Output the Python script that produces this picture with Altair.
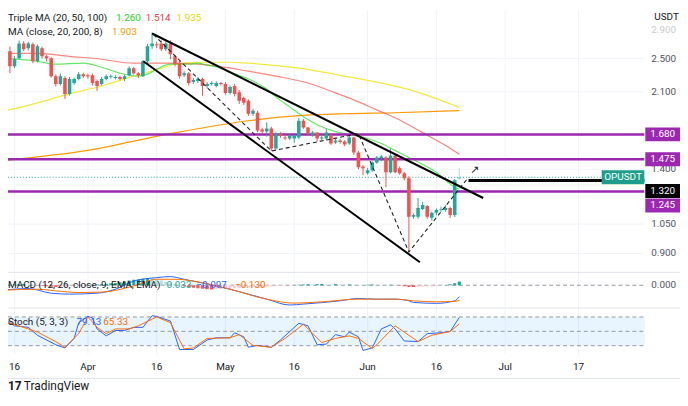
import altair as alt
import pandas as pd

# ---------------- data ----------------
candle_day = list(range(-1, 98))  # days since 16 Mar
candle_open = [2.597, 2.402, 2.504, 2.707, 2.638, 2.693, 2.465, 2.638, 2.530, 2.504,
               2.280, 2.188, 2.257, 2.077, 2.199, 2.245, 2.304, 2.290, 2.292, 2.222,
               2.188, 2.245, 2.269, 2.257, 2.269, 2.245, 2.292, 2.377, 2.316, 2.280,
               2.465, 2.665, 2.693, 2.707, 2.624, 2.707, 2.530, 2.440, 2.292, 2.316,
               2.211, 2.222, 2.245, 2.165, 2.188, 2.165, 2.199, 2.188, 2.088, 2.165,
               2.096, 2.034, 2.003, 1.872, 1.882, 1.723, 1.705, 1.732, 1.561, 1.687,
               1.653, 1.644, 1.644, 1.653, 1.805, 1.741, 1.670, 1.696, 1.644, 1.644,
               1.670, 1.610, 1.627, 1.619, 1.602, 1.653, 1.529, 1.419, 1.371, 1.392,
               1.451, 1.482, 1.489, 1.378, 1.505, 1.407, 1.371, 1.336, 1.091, 1.091,
               1.137, 1.155, 1.085, 1.114, 1.134, 1.131, 1.143, 1.102, 1.330]
candle_high = [2.665, 2.530, 2.749, 2.740, 2.730, 2.720, 2.690, 2.660, 2.550, 2.520,
               2.300, 2.310, 2.280, 2.270, 2.260, 2.330, 2.320, 2.310, 2.310, 2.240,
               2.270, 2.300, 2.300, 2.290, 2.280, 2.300, 2.400, 2.390, 2.330, 2.480,
               2.700, 2.860, 2.730, 2.750, 2.760, 2.750, 2.550, 2.470, 2.340, 2.330,
               2.260, 2.270, 2.260, 2.210, 2.220, 2.220, 2.210, 2.210, 2.170, 2.190,
               2.120, 2.050, 2.020, 1.920, 1.900, 1.740, 1.790, 1.750, 1.700, 1.700,
               1.680, 1.690, 1.680, 1.830, 1.820, 1.750, 1.710, 1.700, 1.680, 1.730,
               1.690, 1.640, 1.640, 1.630, 1.670, 1.660, 1.540, 1.430, 1.410, 1.460,
               1.500, 1.510, 1.500, 1.561, 1.520, 1.420, 1.380, 1.350, 1.110, 1.204,
               1.180, 1.160, 1.120, 1.140, 1.150, 1.160, 1.150, 1.330, 1.407]
candle_low = [2.316, 2.377, 2.491, 2.600, 2.610, 2.440, 2.450, 2.500, 2.460, 2.260,
              2.160, 2.170, 2.023, 2.060, 2.180, 2.230, 2.260, 2.250, 2.170, 2.110,
              2.170, 2.230, 2.250, 2.240, 2.230, 2.220, 2.280, 2.300, 2.257, 2.270,
              2.440, 2.630, 2.640, 2.600, 2.600, 2.490, 2.400, 2.250, 2.270, 2.170,
              2.190, 2.200, 2.056, 2.140, 2.170, 2.150, 2.170, 2.070, 2.070, 2.050,
              1.970, 1.960, 1.850, 1.850, 1.700, 1.690, 1.660, 1.540, 1.550, 1.650,
              1.630, 1.630, 1.610, 1.640, 1.730, 1.670, 1.660, 1.620, 1.630, 1.630,
              1.590, 1.600, 1.600, 1.580, 1.590, 1.510, 1.400, 1.356, 1.360, 1.380,
              1.440, 1.460, 1.274, 1.370, 1.370, 1.360, 1.320, 0.907, 1.080, 1.080,
              1.130, 1.080, 1.070, 1.100, 1.120, 1.120, 1.085, 1.090, 1.325]
candle_close = [2.402, 2.491, 2.707, 2.624, 2.707, 2.465, 2.665, 2.530, 2.504, 2.280,
                2.188, 2.280, 2.077, 2.245, 2.245, 2.304, 2.280, 2.280, 2.199, 2.165,
                2.245, 2.280, 2.280, 2.269, 2.245, 2.280, 2.377, 2.316, 2.292, 2.465,
                2.665, 2.707, 2.679, 2.624, 2.707, 2.557, 2.427, 2.280, 2.316, 2.199,
                2.234, 2.245, 2.165, 2.188, 2.199, 2.199, 2.188, 2.088, 2.154, 2.077,
                2.003, 1.982, 1.872, 1.901, 1.714, 1.705, 1.732, 1.561, 1.687, 1.670,
                1.644, 1.670, 1.670, 1.805, 1.741, 1.687, 1.696, 1.644, 1.653, 1.696,
                1.602, 1.627, 1.615, 1.594, 1.653, 1.529, 1.414, 1.407, 1.392, 1.451,
                1.489, 1.497, 1.378, 1.505, 1.378, 1.371, 1.336, 1.091, 1.102, 1.143,
                1.161, 1.091, 1.114, 1.131, 1.137, 1.143, 1.102, 1.322, 1.342]

ma20_day = [-2, 5, 9, 15, 19, 23, 27, 29, 31, 34, 38, 40, 42, 45, 47, 50, 52, 55, 57, 60,
            63, 66, 70, 73, 77, 80, 83, 86, 89, 92, 94, 96, 97]
ma20_val = [2.504, 2.465, 2.427, 2.440, 2.389, 2.316, 2.280, 2.304, 2.365, 2.427, 2.427,
            2.440, 2.415, 2.377, 2.328, 2.269, 2.222, 2.132, 2.045, 1.941, 1.843, 1.768,
            1.705, 1.679, 1.644, 1.602, 1.545, 1.489, 1.436, 1.378, 1.322, 1.274, 1.260]
ma50_day = [-2, 5, 12, 19, 26, 33, 40, 51, 57, 64, 70, 74, 79, 83, 89, 94, 97]
ma50_val = [2.570, 2.570, 2.530, 2.491, 2.440, 2.440, 2.427, 2.340, 2.280, 2.199, 2.088,
            2.013, 1.911, 1.834, 1.696, 1.585, 1.514]
ma100_day = [-2, 5, 12, 19, 26, 30, 35, 40, 47, 51, 62, 72, 87, 97]
ma100_val = [1.901, 1.982, 2.077, 2.165, 2.280, 2.340, 2.427, 2.452, 2.452, 2.440, 2.377,
             2.280, 2.110, 1.935]
ma200_day = [-2, 16, 34, 51, 62, 72, 83, 97]
ma200_val = [1.466, 1.545, 1.687, 1.805, 1.853, 1.872, 1.882, 1.903]

macd_day = [-2, 3, 8, 12, 18, 22, 26, 31, 34, 37, 47, 55, 60, 63, 71, 75, 79, 83, 86, 87,
            92, 96, 97]
macd_val = [-0.040, -0.028, -0.068, -0.076, -0.068, -0.034, 0.036, 0.065, 0.074, 0.051,
            -0.034, -0.119, -0.169, -0.161, -0.133, -0.113, -0.119, -0.119, -0.133,
            -0.147, -0.155, -0.133, -0.097]
signal_day = [-2, 5, 9, 14, 19, 26, 31, 35, 39, 47, 55, 61, 67, 75, 83, 87, 92, 96, 97]
signal_val = [-0.042, -0.034, -0.048, -0.062, -0.059, -0.006, 0.051, 0.051, 0.036, -0.034,
              -0.119, -0.153, -0.142, -0.119, -0.119, -0.133, -0.142, -0.138, -0.130]
hist_val = [0.004, 0.006, 0.008, 0.010, 0.006, 0.004, 0.002,
            -0.004, -0.008, -0.012, -0.014, -0.012, -0.010,
            -0.008, -0.006, -0.003, -0.002, 0.002, 0.004, 0.006, 0.008, 0.012,
            0.016, 0.020, 0.026, 0.032, 0.040, 0.046, 0.050, 0.056, 0.060,
            0.058, 0.050, 0.040, 0.030, 0.022, 0.012, 0.004,
            -0.008, -0.016, -0.022, -0.026, -0.030, -0.034, -0.036, -0.034, -0.032,
            -0.030, -0.028, -0.026, -0.024, -0.022, -0.020, -0.018, -0.016, -0.014, -0.012,
            -0.010, -0.008, -0.006, -0.004, -0.002, -0.001,
            0.004, 0.006, 0.008, 0.006, 0.008, 0.010, 0.008, 0.006, 0.008, 0.006, 0.004,
            0.006, 0.004, 0.003, 0.002,
            0.004, 0.006, 0.004, 0.003, 0.002, 0.004, 0.002, -0.002,
            -0.008, -0.014, -0.016, -0.016, -0.012, -0.010, -0.008, -0.006,
            -0.003, 0.002, 0.008, 0.018, 0.033]

stk_day = [-2, 0, 3, 5, 9, 11, 13, 14, 16, 17, 18, 20, 22, 24, 26, 28, 30, 31, 34, 36,
           39, 42, 44, 47, 48, 50, 51, 53, 56, 58, 62, 64, 66, 68, 70, 72, 73, 75, 76, 78,
           80, 82, 83, 85, 88, 90, 93, 95, 97]
stk_val = [74.7, 61.5, 58.3, 41.8, 22.0, 15.4, 35.2, 68.1, 81.3, 78.0,
           55.0, 40.5, 51.7, 51.7, 58.3, 58.3, 82.6, 81.3, 71.4, 12.1,
           12.1, 31.9, 36.5, 36.5, 47.0, 38.5, 16.7, 20.7, 16.7, 31.9,
           66.8, 61.5, 22.0, 23.3, 43.1, 38.5, 48.4, 38.5, 10.1, 15.4,
           55.0, 63.5, 55.0, 29.9, 28.6, 45.1, 47.0, 49.7, 79.1]
std_day = [-2, 2, 5, 9, 11, 14, 16, 18, 20, 22, 25, 27, 31, 34, 37, 39, 42, 47, 49, 52,
           56, 59, 63, 67, 70, 73, 75, 78, 79, 83, 84, 88, 91, 95, 97]
std_val = [69.5, 58.3, 48.4, 28.6, 16.7, 45.1, 80.0, 58.3, 45.1, 55.0,
           55.0, 61.5, 80.0, 68.1, 13.4, 15.4, 35.2, 36.5, 43.1, 20.7,
           16.7, 35.2, 64.8, 26.6, 35.2, 40.5, 35.2, 14.1, 22.0, 61.5,
           55.0, 28.6, 41.8, 49.7, 65.3]

upper_line_day = [30.0, 102.2]
upper_line_p = [2.851, 1.204]
lower_line_day = [28.1, 88.4]
lower_line_p = [2.465, 0.860]
zigzag_day = [30.3, 56, 75, 86, 99]
zigzag_p = [2.836, 1.540, 1.687, 0.907, 1.342]

purple_levels = [1.680, 1.475, 1.245]
black_level = 1.320
black_level_start = 99
last_price = 1.342
price_ticks = [2.5, 2.1, 1.4, 1.05, 0.9]

date_days = [0, 16, 31, 46, 61, 77, 92, 107, 123]
date_labels = ["16", "Apr", "16", "May", "16", "Jun", "16", "Jul", "17"]

# ---------------- styling ----------------
FONT = "Roboto"
TXT = "#131722"
AXT = "#50535e"
UP = "#26a69a"
DOWN = "#ef5350"
PURPLE = "#9c27b0"
GRID = "#f0f3fa"
SEP = "#e0e3eb"
BLUE = "#2962ff"
ORANGE = "#ff6d00"
FS = 10

W_PLOT = 642
xs = alt.Scale(domain=[-0.34, 136.26], range=[0, W_PLOT], nice=False, zero=False)
ps = alt.Scale(type="log", domain=[0.9, 2.5], range=[246.0, 49.3], nice=False)
ms = alt.Scale(domain=[-0.2, 0.1], range=[301.6, 266.2], nice=False, zero=False)
ss = alt.Scale(domain=[20, 80], range=[339, 310], nice=False, zero=False)


def X(f="day"):
    return alt.X(f"{f}:Q", scale=xs, axis=None)


def Y(f, sc):
    return alt.Y(f"{f}:Q", scale=sc, axis=None)


one = pd.DataFrame({"k": [0]})


def label(text, x, y, color=TXT, size=FS, align="left", weight="normal", opacity=1.0):
    return alt.Chart(pd.DataFrame({"t": [text]})).mark_text(
        x=x, y=y, align=align, baseline="middle", font=FONT, fontSize=size,
        color=color, fontWeight=weight, opacity=opacity
    ).encode(text="t:N")


def hline(y, x1, x2, color=SEP, width=1):
    return alt.Chart(one).mark_rule(color=color, strokeWidth=width).encode(
        x=alt.value(x1), x2=alt.value(x2), y=alt.value(y))


layers = []

# grid
dates = pd.DataFrame({"day": date_days, "lab": date_labels})
layers.append(alt.Chart(dates).mark_rule(color=GRID, strokeWidth=1).encode(
    x=X(), y=alt.value(0), y2=alt.value(348)))
layers.append(alt.Chart(pd.DataFrame({"p": price_ticks})).mark_rule(color=GRID).encode(
    y=Y("p", ps), x=alt.value(0), x2=alt.value(W_PLOT)))

# pane separators and bottom border
layers.append(hline(265, 0, 678))
layers.append(hline(301, 0, 678))
layers.append(hline(372, 0, 678))

# stoch band + levels
band = pd.DataFrame({"top": [80], "bot": [20]})
layers.append(alt.Chart(band).mark_rect(color="#2196f3", opacity=0.1).encode(
    x=alt.value(0), x2=alt.value(W_PLOT), y=Y("top", ss), y2="bot:Q"))
layers.append(alt.Chart(pd.DataFrame({"v": [80, 50, 20]})).mark_rule(
    color="#9598a1", strokeDash=[4, 3], strokeWidth=1).encode(
    x=alt.value(0), x2=alt.value(W_PLOT), y=Y("v", ss)))

# MACD zero line
layers.append(alt.Chart(pd.DataFrame({"v": [0.0]})).mark_rule(
    color="#9598a1", strokeDash=[4, 3], strokeWidth=1).encode(
    x=alt.value(0), x2=alt.value(W_PLOT), y=Y("v", ms)))

# moving averages
for d, v, col, op in [(ma200_day, ma200_val, "#ff9800", 1.0),
                      (ma100_day, ma100_val, "#f5ea3b", 1.0),
                      (ma50_day, ma50_val, "#f44336", 0.65),
                      (ma20_day, ma20_val, "#22dd22", 0.7)]:
    df = pd.DataFrame({"day": d, "v": v})
    layers.append(alt.Chart(df).mark_line(color=col, strokeWidth=1.2, opacity=op,
                                          interpolate="monotone", clip=True).encode(
        x=X(), y=Y("v", ps)))

# purple levels and last-price dotted line
layers.append(alt.Chart(pd.DataFrame({"p": purple_levels})).mark_rule(
    color=PURPLE, strokeWidth=2.5).encode(
    x=alt.value(0), x2=alt.value(W_PLOT), y=Y("p", ps)))
layers.append(alt.Chart(pd.DataFrame({"p": [last_price]})).mark_rule(
    color=UP, strokeDash=[1, 2], strokeWidth=1).encode(
    x=alt.value(0), x2=alt.value(W_PLOT), y=Y("p", ps)))

# candles
candles = pd.DataFrame({"day": candle_day, "open": candle_open, "high": candle_high,
                        "low": candle_low, "close": candle_close})
ccol = alt.condition(alt.datum.close >= alt.datum.open, alt.value(UP), alt.value(DOWN))
cop = alt.condition(alt.datum.day == 97, alt.value(0.35), alt.value(1.0))
layers.append(alt.Chart(candles).mark_rule(strokeWidth=1, clip=True).encode(
    x=X(), y=Y("low", ps), y2="high:Q", color=ccol, opacity=cop))
layers.append(alt.Chart(candles).mark_bar(size=3.6, clip=True).encode(
    x=X(), y=Y("open", ps), y2="close:Q", color=ccol, opacity=cop))

# trend lines
tl = pd.DataFrame({"day": upper_line_day + lower_line_day,
                   "p": upper_line_p + lower_line_p,
                   "seg": ["u", "u", "l", "l"]})
layers.append(alt.Chart(tl).mark_line(color="black", strokeWidth=2, clip=True).encode(
    x=X(), y=Y("p", ps), detail="seg:N"))
zz = pd.DataFrame({"day": zigzag_day, "p": zigzag_p, "i": list(range(len(zigzag_day)))})
layers.append(alt.Chart(zz).mark_line(color="#222", strokeWidth=1.1, strokeDash=[4, 3]).encode(
    x=X(), y=Y("p", ps), order="i:Q"))
layers.append(alt.Chart(pd.DataFrame({"day": [100.3], "p": [1.395]})).mark_text(
    text="↗", font="DejaVu Sans", fontSize=11, color="#222").encode(x=X(), y=Y("p", ps)))

# black 1.320 line
layers.append(alt.Chart(pd.DataFrame({"day": [black_level_start], "p": [black_level]})).mark_rule(
    color="black", strokeWidth=3).encode(x=X(), x2=alt.value(W_PLOT), y=Y("p", ps)))

# MACD histogram + lines
hist = pd.DataFrame({"day": candle_day, "h": hist_val})
prev = hist["h"].shift(1).fillna(0)
hist["kind"] = [("pu" if h >= p else "pd") if h >= 0 else ("nd" if h < p else "nu")
                for h, p in zip(hist["h"], prev)]
layers.append(alt.Chart(hist).mark_bar(size=3.2, clip=True).encode(
    x=X(), y=Y("h", ms), y2=alt.datum(0),
    color=alt.Color("kind:N", legend=None,
                    scale=alt.Scale(domain=["pu", "pd", "nd", "nu"],
                                    range=["#26a69a", "#b2dfdb", "#ff5252", "#ffcdd2"]))))
layers.append(alt.Chart(pd.DataFrame({"day": macd_day, "v": macd_val})).mark_line(
    color=BLUE, strokeWidth=1, interpolate="monotone", clip=True).encode(x=X(), y=Y("v", ms)))
layers.append(alt.Chart(pd.DataFrame({"day": signal_day, "v": signal_val})).mark_line(
    color=ORANGE, strokeWidth=1, interpolate="monotone", clip=True).encode(x=X(), y=Y("v", ms)))

# Stoch
layers.append(alt.Chart(pd.DataFrame({"day": stk_day, "v": stk_val})).mark_line(
    color=BLUE, strokeWidth=1, clip=True).encode(x=X(), y=Y("v", ss)))
layers.append(alt.Chart(pd.DataFrame({"day": std_day, "v": std_val})).mark_line(
    color=ORANGE, strokeWidth=1, clip=True).encode(x=X(), y=Y("v", ss)))

# right price scale labels
layers.append(alt.Chart(pd.DataFrame({"p": price_ticks})).mark_text(
    x=649, align="left", baseline="middle", font=FONT, fontSize=FS, color=AXT).encode(
    y=Y("p", ps), text=alt.Text("p:Q", format=".3f")))
layers.append(alt.Chart(pd.DataFrame({"p": [2.9]})).mark_text(
    x=649, align="left", baseline="middle", font=FONT, fontSize=FS, color=AXT, opacity=0.3).encode(
    y=Y("p", ps), text=alt.Text("p:Q", format=".3f")))
layers.append(alt.Chart(pd.DataFrame({"v": [0.0]})).mark_text(
    x=649, align="left", baseline="middle", font=FONT, fontSize=FS, color=AXT).encode(
    y=Y("v", ms), text=alt.Text("v:Q", format=".3f")))
layers.append(label("USDT", 652, 7, color=TXT))


# price boxes
def box(levels, color, yoff=0, textcolor="white"):
    df = pd.DataFrame({"p": levels})
    r = alt.Chart(df).mark_rule(color=color, strokeWidth=14, yOffset=yoff).encode(
        x=alt.value(643), x2=alt.value(678), y=Y("p", ps))
    t = alt.Chart(df).mark_text(x=660.5, align="center", baseline="middle", yOffset=yoff,
                                font=FONT, fontSize=FS, color=textcolor).encode(
        y=Y("p", ps), text=alt.Text("p:Q", format=".3f"))
    return [r, t]


layers += box(purple_levels[:2], PURPLE)
layers += box([black_level], "#000000", yoff=10.7)
layers += box([purple_levels[2]], PURPLE, yoff=14)

# OPUSDT tag
opdf = pd.DataFrame({"p": [last_price], "t": ["OPUSDT"]})
layers.append(alt.Chart(opdf).mark_rule(color="#1e9e8a", strokeWidth=14).encode(
    x=alt.value(599), x2=alt.value(642), y=Y("p", ps)))
layers.append(alt.Chart(opdf).mark_text(x=620.5, align="center", baseline="middle",
                                        font=FONT, fontSize=FS, color="white").encode(
    y=Y("p", ps), text="t:N"))

# date labels
layers.append(alt.Chart(dates).mark_text(y=361, align="center", baseline="middle",
                                         font=FONT, fontSize=FS, color=TXT).encode(
    x=X(), text="lab:N"))

# legends
layers.append(label("Triple MA (20, 50, 100)", 0, 8))
layers.append(label("1.260", 109, 8, color="#1fcf1f"))
layers.append(label("1.514", 139, 8, color="#f23645"))
layers.append(label("1.935", 170, 8, color="#e8d800"))
layers.append(label("MA (close, 20, 200, 8)", 0, 23))
layers.append(label("1.903", 105, 23, color="#ff9800"))
layers.append(label("MACD (12, 26, close, 9, EMA, EMA)", 0, 278))
layers.append(label("0.033", 160, 278, color="#26a69a"))
layers.append(label("\u22120.097", 190, 278, color=BLUE))
layers.append(label("\u22120.130", 229, 278, color=ORANGE))
layers.append(label("Stoch (5, 3, 3)", 0, 315))
layers.append(label("79.13", 69, 315, color=BLUE))
layers.append(label("65.33", 96, 315, color=ORANGE))

# TradingView footer
layers.append(label("17", 0, 380, color=TXT, size=12, weight="bold"))
layers.append(label("TradingView", 16, 380, color=TXT, size=12))

chart = alt.layer(*layers).resolve_scale(y="independent").properties(
    width=678, height=384, padding=0,
    autosize=alt.AutoSizeParams(type="none"),
    background="white",
).configure_view(stroke=None)

chart.save("out.html", embed_options={"renderer": "svg", "actions": False})
